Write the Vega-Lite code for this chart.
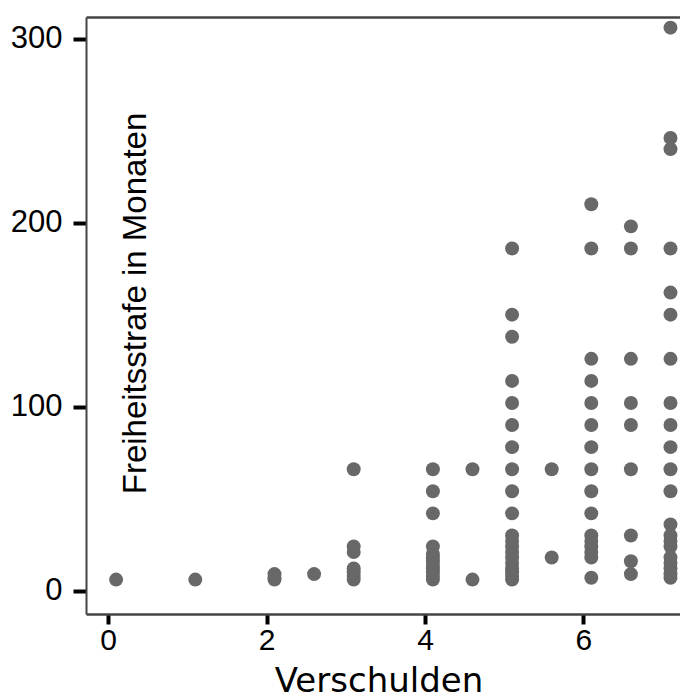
{
  "$schema": "https://vega.github.io/schema/vega-lite/v6.json",
  "width": 594,
  "height": 597,
  "autosize": {"type": "none"},
  "padding": {"left": 86, "top": 17, "right": 0, "bottom": 79},
  "background": "white",
  "config": {"view": {"stroke": null}, "font": "Liberation Sans"},
  "data": {"values": [
    {"Verschulden": 0.1, "Strafe": 6},
    {"Verschulden": 1.1, "Strafe": 6},
    {"Verschulden": 2.1, "Strafe": 6}, {"Verschulden": 2.1, "Strafe": 7}, {"Verschulden": 2.1, "Strafe": 9},
    {"Verschulden": 2.6, "Strafe": 9},
    {"Verschulden": 3.1, "Strafe": 6}, {"Verschulden": 3.1, "Strafe": 8}, {"Verschulden": 3.1, "Strafe": 10}, {"Verschulden": 3.1, "Strafe": 12}, {"Verschulden": 3.1, "Strafe": 21}, {"Verschulden": 3.1, "Strafe": 24}, {"Verschulden": 3.1, "Strafe": 66},
    {"Verschulden": 4.1, "Strafe": 6}, {"Verschulden": 4.1, "Strafe": 8}, {"Verschulden": 4.1, "Strafe": 10}, {"Verschulden": 4.1, "Strafe": 12}, {"Verschulden": 4.1, "Strafe": 14}, {"Verschulden": 4.1, "Strafe": 16}, {"Verschulden": 4.1, "Strafe": 18}, {"Verschulden": 4.1, "Strafe": 20}, {"Verschulden": 4.1, "Strafe": 24}, {"Verschulden": 4.1, "Strafe": 42}, {"Verschulden": 4.1, "Strafe": 54}, {"Verschulden": 4.1, "Strafe": 66},
    {"Verschulden": 4.6, "Strafe": 6}, {"Verschulden": 4.6, "Strafe": 66},
    {"Verschulden": 5.1, "Strafe": 6}, {"Verschulden": 5.1, "Strafe": 8}, {"Verschulden": 5.1, "Strafe": 10}, {"Verschulden": 5.1, "Strafe": 12}, {"Verschulden": 5.1, "Strafe": 15}, {"Verschulden": 5.1, "Strafe": 18}, {"Verschulden": 5.1, "Strafe": 21}, {"Verschulden": 5.1, "Strafe": 24}, {"Verschulden": 5.1, "Strafe": 27}, {"Verschulden": 5.1, "Strafe": 30}, {"Verschulden": 5.1, "Strafe": 42}, {"Verschulden": 5.1, "Strafe": 54}, {"Verschulden": 5.1, "Strafe": 66}, {"Verschulden": 5.1, "Strafe": 78}, {"Verschulden": 5.1, "Strafe": 90}, {"Verschulden": 5.1, "Strafe": 102}, {"Verschulden": 5.1, "Strafe": 114}, {"Verschulden": 5.1, "Strafe": 138}, {"Verschulden": 5.1, "Strafe": 150}, {"Verschulden": 5.1, "Strafe": 186},
    {"Verschulden": 5.6, "Strafe": 18}, {"Verschulden": 5.6, "Strafe": 66},
    {"Verschulden": 6.1, "Strafe": 7}, {"Verschulden": 6.1, "Strafe": 18}, {"Verschulden": 6.1, "Strafe": 21}, {"Verschulden": 6.1, "Strafe": 24}, {"Verschulden": 6.1, "Strafe": 27}, {"Verschulden": 6.1, "Strafe": 30}, {"Verschulden": 6.1, "Strafe": 42}, {"Verschulden": 6.1, "Strafe": 54}, {"Verschulden": 6.1, "Strafe": 66}, {"Verschulden": 6.1, "Strafe": 78}, {"Verschulden": 6.1, "Strafe": 90}, {"Verschulden": 6.1, "Strafe": 102}, {"Verschulden": 6.1, "Strafe": 114}, {"Verschulden": 6.1, "Strafe": 126}, {"Verschulden": 6.1, "Strafe": 186}, {"Verschulden": 6.1, "Strafe": 210},
    {"Verschulden": 6.6, "Strafe": 9}, {"Verschulden": 6.6, "Strafe": 16}, {"Verschulden": 6.6, "Strafe": 30}, {"Verschulden": 6.6, "Strafe": 66}, {"Verschulden": 6.6, "Strafe": 90}, {"Verschulden": 6.6, "Strafe": 102}, {"Verschulden": 6.6, "Strafe": 126}, {"Verschulden": 6.6, "Strafe": 186}, {"Verschulden": 6.6, "Strafe": 198},
    {"Verschulden": 7.1, "Strafe": 7}, {"Verschulden": 7.1, "Strafe": 9}, {"Verschulden": 7.1, "Strafe": 12}, {"Verschulden": 7.1, "Strafe": 15}, {"Verschulden": 7.1, "Strafe": 18}, {"Verschulden": 7.1, "Strafe": 24}, {"Verschulden": 7.1, "Strafe": 27}, {"Verschulden": 7.1, "Strafe": 30}, {"Verschulden": 7.1, "Strafe": 36}, {"Verschulden": 7.1, "Strafe": 54}, {"Verschulden": 7.1, "Strafe": 66}, {"Verschulden": 7.1, "Strafe": 78}, {"Verschulden": 7.1, "Strafe": 90}, {"Verschulden": 7.1, "Strafe": 102}, {"Verschulden": 7.1, "Strafe": 126}, {"Verschulden": 7.1, "Strafe": 150}, {"Verschulden": 7.1, "Strafe": 162}, {"Verschulden": 7.1, "Strafe": 186}, {"Verschulden": 7.1, "Strafe": 240}, {"Verschulden": 7.1, "Strafe": 246}, {"Verschulden": 7.1, "Strafe": 306}
  ]},
  "layer": [
    {
      "mark": {"type": "point", "filled": true, "size": 195, "color": "#686868", "opacity": 1, "strokeWidth": 0},
      "encoding": {
        "x": {
          "field": "Verschulden", "type": "quantitative",
          "scale": {"domain": [-0.28, 7.22], "nice": false, "zero": false},
          "axis": {
            "orient": "bottom", "title": "Verschulden", "values": [0, 2, 4, 6], "grid": false,
            "tickSize": 10, "tickWidth": 4, "tickColor": "black",
            "labelFontSize": 30, "labelFont": "Liberation Sans", "labelColor": "black", "labelPadding": 1, "labelFlush": false,
            "domainColor": "#444444", "domainWidth": 2.5,
            "titleFont": "DejaVu Sans", "titleFontSize": 34, "titleFontWeight": "normal", "titleColor": "black",
            "titleX": 292.5, "titleY": 77, "titleAlign": "center", "titleBaseline": "alphabetic"
          }
        },
        "y": {
          "field": "Strafe", "type": "quantitative",
          "scale": {"domain": [-12.7, 311.8], "nice": false, "zero": false},
          "axis": {
            "title": "Freiheitsstrafe in Monaten", "values": [0, 100, 200, 300], "grid": false,
            "tickSize": 13, "tickWidth": 4, "tickColor": "black",
            "labelFontSize": 31, "labelFont": "Liberation Sans", "labelColor": "black", "labelPadding": 11,
            "domainColor": "#444444", "domainWidth": 2,
            "titleFont": "Liberation Sans", "titleFontSize": 33, "titleFontWeight": "normal", "titleColor": "black",
            "titleAngle": 270, "titleX": 59, "titleY": 286, "titleAlign": "center", "titleBaseline": "alphabetic"
          }
        }
      }
    },
    {
      "mark": {"type": "point", "opacity": 0},
      "encoding": {
        "x": {
          "field": "Verschulden", "type": "quantitative",
          "axis": {"orient": "top", "title": null, "labels": false, "ticks": false, "grid": false, "domain": true, "domainColor": "#444444", "domainWidth": 2.5}
        },
        "y": {"field": "Strafe", "type": "quantitative"}
      }
    }
  ],
  "resolve": {"axis": {"x": "independent"}}
}
